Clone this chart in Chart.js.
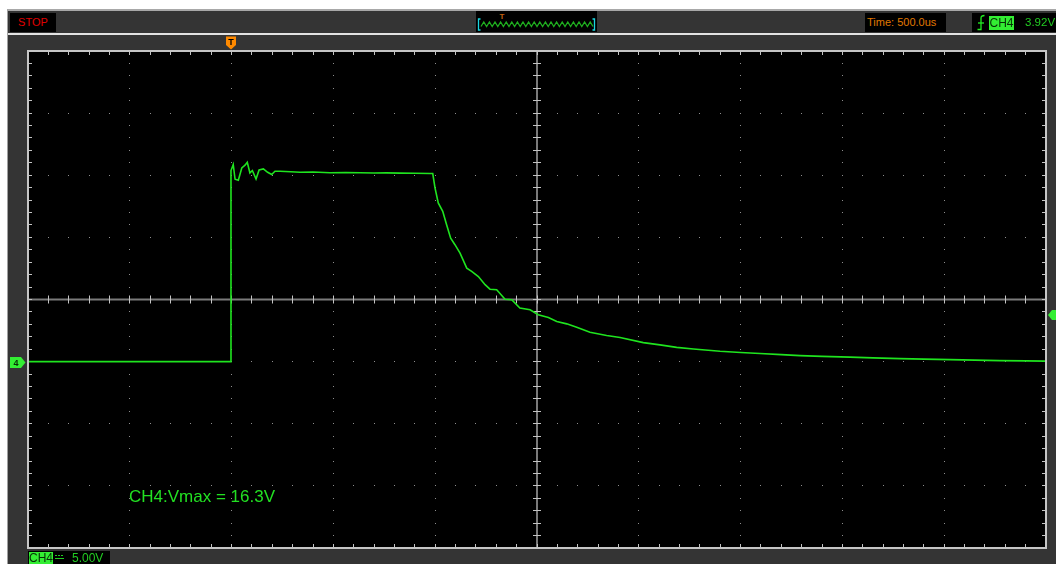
<!DOCTYPE html>
<html><head><meta charset="utf-8">
<script src="https://cdn.jsdelivr.net/npm/chart.js@4.4.0/dist/chart.umd.min.js"></script>
<style>
html,body{margin:0;padding:0;background:#fff;width:1056px;height:564px;overflow:hidden;font-family:"Liberation Sans",Arial,sans-serif;}
#panel{position:absolute;left:7px;top:9px;width:1049px;height:555px;background:#343434;border-left:1px solid #a0a0a0;border-top:2px solid #a8a8a8;box-sizing:border-box;}
#sep{position:absolute;left:8px;top:33px;width:1048px;height:2px;background:#e2e2e2;}
#c{position:absolute;left:0;top:0;}
.ov{position:absolute;z-index:5;}
.box{background:#000;}
.t11{font-size:11px;line-height:19px;white-space:nowrap;}
</style></head>
<body>
<div id="panel"></div>
<div id="sep"></div>
<canvas id="c" width="1056" height="564"></canvas>

<div class="ov box t11" style="left:10px;top:13px;width:46px;height:19px;color:#e00000;text-align:center;">STOP</div>

<div class="ov box" style="left:476px;top:11px;width:121px;height:21px;">
  <svg id="zig" width="121" height="21" style="position:absolute;left:0;top:0"></svg>
</div>

<div class="ov box t11" style="left:865px;top:13px;width:81px;height:19px;color:#e07800;"><span style="padding-left:2px">Time: 500.0us</span></div>

<div class="ov box" style="left:972px;top:13px;width:84px;height:19px;">
  <svg width="10" height="17" style="position:absolute;left:4px;top:1px">
    <path d="M1.5 15.5 L5 15.5 L5 4 Q5 1.5 8.5 1.5" fill="none" stroke="#22ee22" stroke-width="1.3"/>
    <path d="M2 9 L8 9" stroke="#22ee22" stroke-width="1.3"/>
  </svg>
  <div class="t11" style="position:absolute;left:17px;top:3px;width:25px;height:14px;line-height:14px;background:#33ee33;color:#063006;text-align:center;font-size:12px;">CH4</div>
  <div class="t11" style="position:absolute;left:53px;top:0;color:#22cc22;font-size:11.5px;">3.92V</div>
</div>

<div class="ov box" style="left:28px;top:551px;width:82px;height:13px;">
  <div style="position:absolute;left:1px;top:1px;width:24px;height:12px;line-height:13px;background:#33ee33;color:#063006;font-size:12px;text-align:center;">CH4</div>
  <svg width="10" height="8" style="position:absolute;left:27px;top:3px">
    <path d="M0 1.5 L9 1.5" stroke="#22cc22" stroke-width="1" stroke-dasharray="2 1"/>
    <path d="M0 4.5 L9 4.5" stroke="#22cc22" stroke-width="1"/>
  </svg>
  <div style="position:absolute;left:44px;top:0px;color:#22cc22;font-size:12px;line-height:14px;">5.00V</div>
</div>

<svg class="ov" width="12" height="14" style="left:226px;top:36px">
  <polygon points="0,0.5 10,0.5 10,9 5,13.5 0,9" fill="#ff8a00"/>
  <text x="5" y="9" text-anchor="middle" font-size="9" font-weight="bold" fill="#000" font-family="Liberation Sans, Arial">T</text>
</svg>

<svg class="ov" width="16" height="12" style="left:10px;top:357px">
  <polygon points="0,0 11,0 15.5,5.5 11,11 0,11" fill="#33ee33"/>
  <text x="6" y="9" text-anchor="middle" font-size="9" font-weight="bold" fill="#063006" font-family="Liberation Sans, Arial">4</text>
</svg>

<svg class="ov" width="8" height="11" style="left:1048px;top:310px">
  <polygon points="0,5 4,0 8,0 8,10 4,10" fill="#33ee33"/>
</svg>

<div class="ov" style="left:129px;top:488px;font-size:17px;line-height:17px;color:#22e022;white-space:nowrap;">CH4:Vmax = 16.3V</div>

<script>
// ---- Data (time in microseconds relative to trigger, voltage in volts) ----
const TIME_US = [-1000, -4, -3, 8, 17, 33, 50, 66, 77, 90, 102, 120, 135, 156, 177, 197, 213, 238,
  290, 336, 400, 483, 560, 631, 700, 760, 827, 900, 974, 988,
  999, 1015, 1037, 1056, 1076, 1097, 1122, 1155, 1179, 1212, 1245, 1269, 1302, 1343, 1376,
  1416, 1466, 1506, 1556, 1597, 1646, 1695, 1760, 1842, 1908, 2022, 2104, 2186, 2268, 2399,
  2500, 2595, 2700, 2792, 2900, 3037, 3150, 3283, 3400, 3529, 3650, 3774, 3900, 4000];
const VOLTS = [0, 0, 15.38, 15.86, 14.68, 14.60, 15.59, 15.81, 16.05, 15.19, 15.38, 14.70, 15.43, 15.51, 15.24, 15.06, 15.32, 15.32,
  15.28, 15.24, 15.26, 15.20, 15.22, 15.20, 15.18, 15.19, 15.17, 15.16, 15.14, 15.14,
  13.98, 12.77, 12.10, 11.02, 9.94, 9.41, 8.73, 7.52, 7.26, 6.85, 6.19, 5.83, 5.78, 5.02, 4.98,
  4.31, 4.17, 3.77, 3.55, 3.23, 3.04, 2.77, 2.36, 2.10, 1.94, 1.53, 1.35, 1.15, 1.02, 0.83,
  0.74, 0.65, 0.56, 0.48, 0.42, 0.36, 0.30, 0.24, 0.20, 0.16, 0.12, 0.08, 0.06, 0.04];

const TIME_PER_DIV = 500;   // us/div
const VOLTS_PER_DIV = 5;    // V/div
const X_MIN = -1000, X_MAX = 4000;
const Y_MIN = -15, Y_MAX = 25;
const X_CENTER = 1500, Y_CENTER = 5;

// header zigzag decoration
(function(){
  const svg = document.getElementById('zig');
  let pts = [];
  for (let i = 0; i <= 40; i++) { pts.push((5 + i * 2.8).toFixed(1) + ',' + (i % 2 ? 11 : 15.5)); }
  svg.innerHTML =
    '<polyline points="' + pts.join(' ') + '" fill="none" stroke="#1fae1f" stroke-width="1.3"/>' +
    '<path d="M4.5 8 L2.5 8 L2.5 19 L4.5 19" fill="none" stroke="#1ad6e0" stroke-width="1.3"/>' +
    '<path d="M116.5 8 L118.5 8 L118.5 19 L116.5 19" fill="none" stroke="#1ad6e0" stroke-width="1.3"/>' +
    '<text x="26" y="8" font-size="8" font-weight="bold" fill="#c06010" text-anchor="middle" font-family="Liberation Sans, Arial">T</text>';
})();

const scopeGrid = {
  id: 'scopeGrid',
  beforeDraw(chart) {
    const {ctx, chartArea: a} = chart;
    ctx.save();
    ctx.fillStyle = '#000';
    ctx.fillRect(a.left, a.top, a.right - a.left, a.bottom - a.top);
    ctx.restore();
  },
  beforeDatasetsDraw(chart) {
    const {ctx, chartArea: a, scales: {x, y}} = chart;
    ctx.save();
    const xMinor = TIME_PER_DIV / 5, yMinor = VOLTS_PER_DIV / 5;
    // dotted grid
    ctx.fillStyle = '#8e8e8e';
    for (let gx = X_MIN + TIME_PER_DIV; gx < X_MAX; gx += TIME_PER_DIV) {
      if (gx === X_CENTER) continue;
      const px = Math.floor(x.getPixelForValue(gx));
      for (let v = Y_MIN + yMinor; v < Y_MAX; v += yMinor) {
        ctx.fillRect(px, Math.floor(y.getPixelForValue(v)), 1, 1);
      }
    }
    for (let gy = Y_MIN + VOLTS_PER_DIV; gy < Y_MAX; gy += VOLTS_PER_DIV) {
      if (gy === Y_CENTER) continue;
      const py = Math.floor(y.getPixelForValue(gy));
      for (let t = X_MIN + xMinor; t < X_MAX; t += xMinor) {
        ctx.fillRect(Math.floor(x.getPixelForValue(t)), py, 1, 1);
      }
    }
    // center axes
    const cx = x.getPixelForValue(X_CENTER), cy = y.getPixelForValue(Y_CENTER);
    ctx.strokeStyle = '#7a7a7a';
    ctx.lineWidth = 2;
    ctx.beginPath();
    ctx.moveTo(cx, a.top); ctx.lineTo(cx, a.bottom);
    ctx.moveTo(a.left, cy); ctx.lineTo(a.right, cy);
    ctx.stroke();
    ctx.strokeStyle = '#c4c4c4';
    ctx.lineWidth = 1;
    ctx.beginPath();
    for (let t = X_MIN + xMinor; t < X_MAX; t += xMinor) {
      const px = Math.floor(x.getPixelForValue(t)) + 0.5;
      ctx.moveTo(px, cy - 4); ctx.lineTo(px, cy + 4);
      ctx.moveTo(px, a.top); ctx.lineTo(px, a.top + 4);
      ctx.moveTo(px, a.bottom); ctx.lineTo(px, a.bottom - 4);
    }
    for (let v = Y_MIN + yMinor; v < Y_MAX; v += yMinor) {
      const py = Math.floor(y.getPixelForValue(v)) + 0.5;
      ctx.moveTo(cx - 4, py); ctx.lineTo(cx + 4, py);
      ctx.moveTo(a.left, py); ctx.lineTo(a.left + 4, py);
      ctx.moveTo(a.right, py); ctx.lineTo(a.right - 4, py);
    }
    ctx.stroke();
    ctx.restore();
  },
  afterDraw(chart) {
    const {ctx, chartArea: a} = chart;
    ctx.save();
    ctx.strokeStyle = '#c6c6c6';
    ctx.lineWidth = 2;
    ctx.strokeRect(a.left, a.top, a.right - a.left, a.bottom - a.top);
    ctx.restore();
  }
};

new Chart(document.getElementById('c'), {
  type: 'line',
  data: {
    datasets: [{
      data: TIME_US.map((t, i) => ({x: t, y: VOLTS[i]})),
      borderColor: '#1fe41f',
      borderWidth: 1.6,
      pointRadius: 0,
      tension: 0,
      fill: false
    }]
  },
  options: {
    responsive: false,
    animation: false,
    events: [],
    layout: {padding: {left: 28, right: 10, top: 51, bottom: 16}},
    plugins: {legend: {display: false}, tooltip: {enabled: false}},
    scales: {
      x: {type: 'linear', display: false, min: X_MIN, max: X_MAX},
      y: {type: 'linear', display: false, min: Y_MIN, max: Y_MAX}
    }
  },
  plugins: [scopeGrid]
});
</script>
</body></html>
